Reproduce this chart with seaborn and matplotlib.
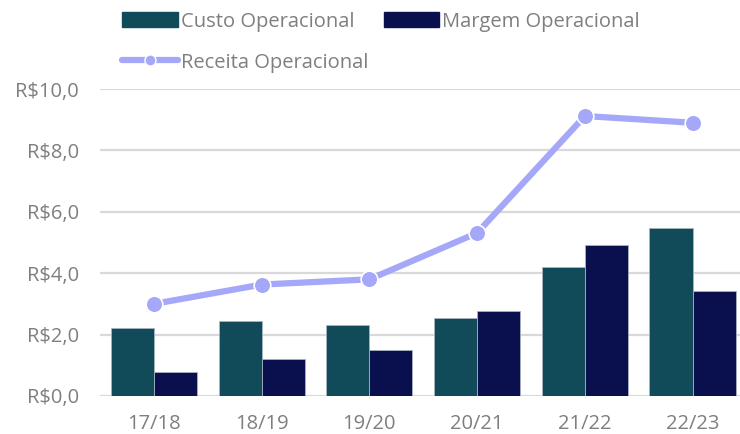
import matplotlib
matplotlib.use("Agg")
import matplotlib.pyplot as plt
import seaborn as sns
import pandas as pd
from matplotlib.patches import Patch
from matplotlib.lines import Line2D

categorias = ["17/18", "18/19", "19/20", "20/21", "21/22", "22/23"]
custo = [2.21, 2.44, 2.31, 2.54, 4.20, 5.47]
margem = [0.78, 1.20, 1.50, 2.77, 4.92, 3.42]
receita = [3.00, 3.63, 3.80, 5.31, 9.12, 8.90]
y_ticks = [0, 2, 4, 6, 8, 10]
y_labels = ["R$0,0", "R$2,0", "R$4,0", "R$6,0", "R$8,0", "R$10,0"]

c_custo = "#114B5A"
c_margem = "#0A0F4E"
c_receita = "#A5A8F8"
gray = "#7F7F7F"

sns.set_theme(style="white")
plt.rcParams["font.family"] = ["Open Sans", "DejaVu Sans"]

df = pd.DataFrame({
    "cat": categorias * 2,
    "val": custo + margem,
    "serie": ["Custo Operacional"] * 6 + ["Margem Operacional"] * 6,
})

fig = plt.figure(figsize=(7.4, 4.34), dpi=100)
ax = fig.add_axes([100 / 740, 38 / 434, 640 / 740, 307 / 434])

for t in y_ticks:
    ax.axhline(t, color="#D9D9D9", lw=1.6, zorder=0)

sns.barplot(data=df, x="cat", y="val", hue="serie",
            palette=[c_custo, c_margem], saturation=1, width=0.8, ax=ax,
            edgecolor="#A9B3C2", linewidth=0.6, legend=False, zorder=2)

sns.pointplot(x=categorias, y=receita, color=c_receita, ax=ax,
              markers="o", markersize=12, linewidth=4.5,
              markeredgecolor="white", markeredgewidth=1.2, zorder=3)

ax.set_ylim(0, 10)
ax.set_xlim(-0.5, 5.44)
ax.set_yticks(y_ticks)
ax.set_yticklabels(y_labels)
ax.set_xlabel("")
ax.set_ylabel("")
ax.tick_params(axis="both", length=0, labelsize=14.5, labelcolor=gray)
ax.tick_params(axis="y", pad=15)
ax.tick_params(axis="x", pad=13)
for s in ax.spines.values():
    s.set_visible(False)
ax.grid(False)

handles = [
    Patch(facecolor=c_custo, edgecolor=c_custo),
    Line2D([0], [0], color=c_receita, lw=4.5, marker="o", markersize=8,
           markeredgecolor="white", markeredgewidth=1.0),
    Patch(facecolor=c_margem, edgecolor=c_margem),
]
labels = ["Custo Operacional", "Receita Operacional", "Margem Operacional"]
fig.legend(handles, labels, ncol=2, loc="upper left",
           bbox_to_anchor=(104 / 740, 1.015), frameon=False,
           fontsize=14.5, labelcolor=gray, handlelength=2.75,
           handleheight=0.8, handletextpad=0.15, columnspacing=0.8,
           labelspacing=1.05)

fig.savefig("out.png", dpi=100)
